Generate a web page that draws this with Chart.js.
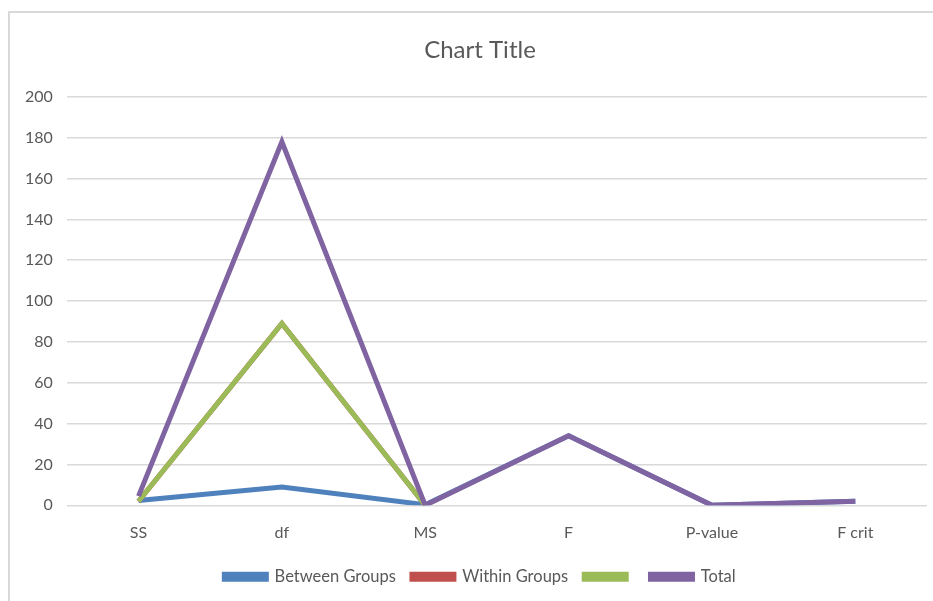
<!DOCTYPE html>
<html>
<head>
<meta charset="utf-8">
<script src="https://cdn.jsdelivr.net/npm/chart.js@4.4.0/dist/chart.umd.min.js"></script>
<style>
  html, body { margin: 0; padding: 0; background: #fff; overflow: hidden; }
  #frame {
    position: absolute; left: 8px; top: 11px; width: 940px; height: 600px;
    border-left: 2px solid #d9d9d9; border-top: 2px solid #d9d9d9;
  }
  #wrap { position: absolute; left: 0; top: 0; width: 933px; height: 601px; overflow: hidden; }
</style>
</head>
<body>
<div id="frame"></div>
<div id="wrap"><canvas id="chartCanvas" width="980" height="601"></canvas></div>
<script>
// categories + series
const categories = ["SS", "df", "MS", "F", "P-value", "F crit"];
const betweenGroups = [2.4, 9, 0.3, 34, 0, 2];
const withinGroups = [2, 89, 0, null, null, null];
const unnamedSeries = [2, 89, 0, null, null, null];
const totalSeries = [4.5, 178, 0, 34, 0, 2];
const yTicks = [0, 20, 40, 60, 80, 100, 120, 140, 160, 180, 200];

const FONT = "Lato, 'Open Sans', sans-serif";
const GREY = "#595959";

// order: higher number is drawn first (underneath), like Excel's series order
function lineSet(label, data, color, order) {
  return {
    label: label,
    data: data,
    borderColor: color,
    backgroundColor: color,
    borderWidth: 5,
    pointRadius: 0,
    tension: 0,
    fill: false,
    order: order,
  };
}

const ctx = document.getElementById("chartCanvas").getContext("2d");
new Chart(ctx, {
  type: "line",
  data: {
    labels: categories,
    datasets: [
      lineSet("Between Groups", betweenGroups, "#4f81bd", 4),
      lineSet("Within Groups", withinGroups, "#c0504d", 3),
      lineSet("", unnamedSeries, "#9bbb59", 2),
      lineSet("Total", totalSeries, "#8064a2", 1),
    ],
  },
  options: {
    responsive: false,
    animation: false,
    layout: { padding: { left: 11, right: 31, top: 11, bottom: 6 } },
    plugins: {
      title: {
        display: true,
        text: "Chart Title",
        color: GREY,
        font: { family: FONT, size: 24, weight: "normal" },
        padding: { top: 25, bottom: 32 },
      },
      legend: {
        position: "bottom",
        labels: {
          color: GREY,
          font: { family: FONT, size: 16.5 },
          boxWidth: 42,
          boxHeight: 5,
          padding: 16,
          sort: (a, b) => a.datasetIndex - b.datasetIndex,
        },
      },
      tooltip: { enabled: false },
    },
    scales: {
      x: {
        offset: true,
        grid: { display: false },
        border: { display: false },
        ticks: { color: GREY, font: { family: FONT, size: 16 }, padding: 10 },
      },
      y: {
        min: 0,
        max: 200,
        afterBuildTicks: (axis) => { axis.ticks = yTicks.map((v) => ({ value: v })); },
        grid: { color: "#d9d9d9", lineWidth: 1.5, drawTicks: false },
        border: { display: false },
        ticks: { color: GREY, font: { family: FONT, size: 16 }, padding: 14 },
      },
      // empty right-hand gutter so the title and legend sit centred like the original
      gutter: {
        position: "right",
        grid: { display: false },
        border: { display: false },
        ticks: { display: false },
        afterFit: (axis) => { axis.width = 22; },
      },
    },
  },
});
</script>
</body>
</html>
